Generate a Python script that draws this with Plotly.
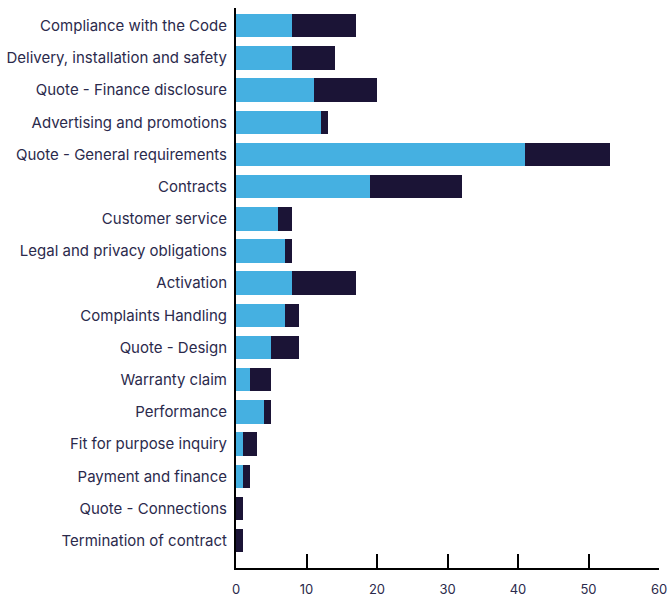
import plotly.graph_objects as go

# Complaint categories, top to bottom
categories = [
    "Compliance with the Code",
    "Delivery, installation and safety",
    "Quote - Finance disclosure",
    "Advertising and promotions",
    "Quote - General requirements",
    "Contracts",
    "Customer service",
    "Legal and privacy obligations",
    "Activation",
    "Complaints Handling",
    "Quote - Design",
    "Warranty claim",
    "Performance",
    "Fit for purpose inquiry",
    "Payment and finance",
    "Quote - Connections",
    "Termination of contract",
]

# Two stacked series
series_a = [8, 8, 11, 12, 41, 19, 6, 7, 8, 7, 5, 2, 4, 1, 1, 0, 0]
series_b = [9, 6, 9, 1, 12, 13, 2, 1, 9, 2, 4, 3, 1, 2, 1, 1, 1]

x_ticks = [0, 10, 20, 30, 40, 50, 60]

LIGHT = "#45B0E1"
DARK = "#1B1436"
TEXT = "#2B2A4C"
FONT = "Inter, Lato, sans-serif"

fig = go.Figure()
fig.add_trace(go.Bar(y=categories, x=series_a, orientation="h",
                     marker=dict(color=LIGHT, line=dict(width=0)),
                     showlegend=False))
fig.add_trace(go.Bar(y=categories, x=series_b, orientation="h",
                     marker=dict(color=DARK, line=dict(width=0)),
                     showlegend=False))

fig.update_layout(
    width=670, height=598,
    margin=dict(l=236, r=11, t=8, b=30),
    barmode="stack",
    bargap=0.27,
    plot_bgcolor="white",
    paper_bgcolor="white",
    font=dict(family=FONT, color=TEXT, size=15),
    xaxis=dict(
        range=[0, 60],
        tickvals=x_ticks,
        ticks="inside", ticklen=14, tickwidth=2, tickcolor="black",
        showline=True, linecolor="black", linewidth=2,
        showgrid=False, zeroline=False,
        ticklabelstandoff=8,
        tickfont=dict(size=13, color=TEXT),
        automargin=False,
        fixedrange=True,
    ),
    yaxis=dict(
        categoryorder="array", categoryarray=categories,
        range=[len(categories) - 1 + 0.85, -0.55],
        showline=True, linecolor="black", linewidth=2,
        ticks="", showgrid=False, zeroline=False,
        ticklabelstandoff=4,
        tickfont=dict(size=15, color=TEXT),
        automargin=False,
        fixedrange=True,
    ),
)

fig.write_html("out.html")
